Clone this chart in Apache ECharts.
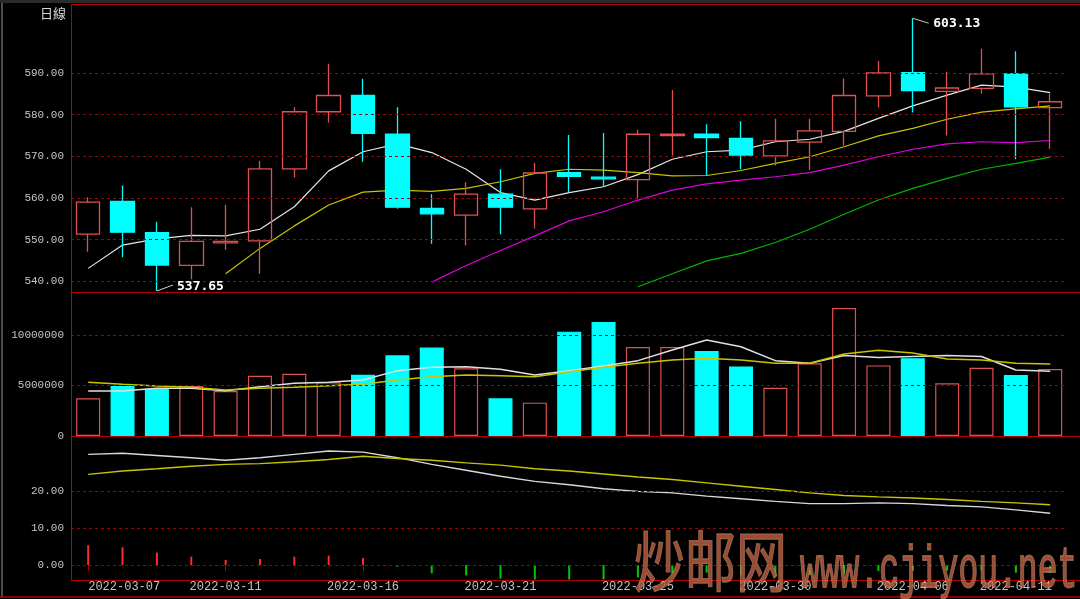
<!DOCTYPE html>
<html><head><meta charset="utf-8">
<script src="https://cdn.jsdelivr.net/npm/echarts@6/dist/echarts.min.js"></script>
<style>html,body{margin:0;padding:0;background:#000;}#c{width:1080px;height:599px;}</style>
</head><body><div id="c"></div>
<script>
// ---------- data ----------
const dates = ['2022-03-07','2022-03-08','2022-03-09','2022-03-10','2022-03-11','2022-03-12','2022-03-14','2022-03-15','2022-03-16','2022-03-17','2022-03-18','2022-03-19','2022-03-21','2022-03-22','2022-03-23','2022-03-24','2022-03-25','2022-03-26','2022-03-28','2022-03-29','2022-03-30','2022-03-31','2022-04-01','2022-04-02','2022-04-06','2022-04-07','2022-04-08','2022-04-11','2022-04-12'];
const dateLabelIdx = [0,4,8,12,16,20,24,27];

const open  = [551.3,559.2,551.7,543.8,549.2,549.7,567.0,580.7,584.6,575.3,557.5,555.9,560.9,557.4,566.1,565.0,564.4,575.0,575.3,574.3,570.1,573.4,576.0,584.5,590.1,585.6,586.3,589.8,581.7];
const close = [559.0,551.8,543.9,549.6,549.6,567.0,580.7,584.6,575.5,557.8,556.2,560.9,557.8,566.0,565.2,564.6,575.3,575.3,574.5,570.3,573.7,576.1,584.6,590.0,585.8,586.4,589.8,581.9,583.1];
const low   = [547.1,545.8,537.65,540.5,547.6,541.8,564.9,578.1,568.7,557.4,549.0,548.6,551.3,552.7,561.4,562.7,559.7,570.2,565.4,566.9,567.8,566.7,572.6,581.7,580.5,575.0,585.0,569.3,571.8];
const high  = [560.2,563.0,554.3,557.8,558.4,568.9,581.8,592.2,588.6,581.8,560.9,563.8,566.9,568.4,575.1,575.6,576.4,585.9,577.7,578.4,579.0,579.0,588.7,592.9,603.13,590.3,595.8,595.2,585.1];

const ma5  = [543.1,548.7,550.2,551.0,550.9,552.5,557.9,566.5,571.1,573.0,570.9,566.9,561.3,559.5,561.3,562.7,565.6,569.3,571.1,571.5,573.5,574.1,576.0,579.1,582.1,584.7,587.1,586.6,585.3];
const ma10 = ['-','-','-','-',541.8,547.9,553.3,558.3,561.4,561.9,561.6,562.3,563.9,565.9,566.9,566.7,566.1,565.3,565.4,566.6,568.3,569.9,572.3,574.9,576.7,578.9,580.6,581.4,582.1];
const ma20 = ['-','-','-','-','-','-','-','-','-','-',539.8,543.8,547.4,550.9,554.5,556.7,559.5,561.9,563.4,564.3,565.1,566.1,567.9,569.9,571.7,573.0,573.5,573.3,573.8];
const ma60 = ['-','-','-','-','-','-','-','-','-','-','-','-','-','-','-','-',538.7,541.8,544.9,546.7,549.3,552.5,556.1,559.5,562.3,564.7,566.9,568.3,569.8];

const volume  = [3730000,4950000,4680000,4950000,4460000,5970000,6170000,5310000,6070000,7990000,8750000,6700000,3730000,3300000,10330000,11290000,8810000,8810000,8420000,6890000,4770000,7200000,12680000,6990000,7700000,5220000,6750000,6030000,6640000];
const volMa5  = [4460000,4460000,4720000,4720000,4490000,4880000,5220000,5310000,5540000,6470000,6800000,6860000,6600000,6040000,6470000,6930000,7460000,8510000,9500000,8830000,7460000,7200000,7980000,7770000,7870000,7980000,7870000,6540000,6410000];
const volMa10 = [5310000,5120000,4950000,4820000,4550000,4720000,4820000,4980000,5120000,5540000,5870000,6040000,5970000,5870000,6370000,6800000,7200000,7520000,7690000,7530000,7200000,7200000,8120000,8490000,8220000,7630000,7530000,7200000,7130000];

const indWhite  = [29.9,30.2,29.6,29.0,28.3,29.0,29.9,30.8,30.5,29.0,27.2,25.6,24.0,22.6,21.7,20.6,19.9,19.5,18.6,17.9,17.2,16.6,16.6,16.8,16.6,16.1,15.7,14.9,14.0];
const indYellow = [24.5,25.4,26.0,26.7,27.2,27.4,27.9,28.5,29.4,28.8,28.3,27.6,27.0,26.0,25.4,24.6,23.8,23.1,22.2,21.3,20.4,19.5,18.8,18.4,18.1,17.7,17.2,16.8,16.3];
const indHist   = [5.35,4.8,3.35,2.26,1.36,1.63,2.26,2.53,1.9,-0.45,-2.26,-2.8,-3.7,-3.9,-3.9,-3.9,-3.35,-2.26,-2.1,-2.7,-3.2,-2.7,-2.3,-1.6,-1.4,-1.5,-1.4,-2.1,-2.1];

const priceTicks = [540,550,560,570,580,590];
const volTicks   = [0,5000000,10000000];
const volGridVals = [5000000,10000000];
const indTicks   = [0,10,20];
const extremeLow  = {idx: 2, value: 537.65};
const extremeHigh = {idx: 24, value: 603.13};

// ---------- styling ----------
const UP = '#e05050', DOWN = '#00ffff';
const FRAME = '#b40000', GRIDC = '#a00000';
const LABEL = '#c4c4c4';
const MONO = '"Liberation Mono", "DejaVu Sans Mono", monospace';

const candleData = open.map((o,i)=>[o, close[i], low[i], high[i]]);
const isUp = open.map((o,i)=>close[i] >= o);
const volData = volume.map((v,i)=>({value:v, itemStyle:{color: isUp[i]?'transparent':DOWN, borderColor: isUp[i]?UP:DOWN, borderWidth:1.2}}));
const histData = indHist.map(v=>({value:v, itemStyle:{color: v>=0?'#ff2a2a':'#00c800'}}));

function gridLines(vals){
  return {silent:true, symbol:['none','none'], label:{show:false}, animation:false,
    lineStyle:{color:GRIDC, type:[3,3], width:1}, emphasis:{disabled:true},
    data: vals.map(v=>({yAxis:v}))};
}
function line(name, data, color, xi, yi, w){
  return {name, type:'line', data, xAxisIndex:xi, yAxisIndex:yi, symbol:'none', showSymbol:false,
    lineStyle:{color, width:w||1.2}, z:3, animation:false, silent:true};
}
const grids = [
  {left:71, right:12.6, top:4, height:288},
  {left:71, right:12.6, top:292, height:144},
  {left:71, right:12.6, top:436, height:144}
];
function xAx(gi, showLab){
  const o = {type:'category', gridIndex:gi, data:dates, boundaryGap:true,
    axisLine:{show:false}, splitLine:{show:false},
    axisTick:{show:false}, axisLabel:{show:false}};
  if(showLab){
    o.axisTick = {show:true, alignWithLabel:true, interval:(i)=>dateLabelIdx.includes(i), length:6, lineStyle:{color:FRAME}};
    o.axisLabel = {show:true, interval:(i)=>dateLabelIdx.includes(i), color:LABEL, fontFamily:MONO, fontSize:12, margin:1, alignMinLabel:'left'};
  }
  return o;
}
function yAx(gi, min, max, ticks, fmt){
  return {type:'value', gridIndex:gi, min, max, scale:true,
    axisLine:{show:false}, axisTick:{show:false}, splitLine:{show:false},
    axisLabel:{customValues:ticks, formatter:fmt, color:LABEL, fontFamily:MONO, fontSize:11, margin:7}};
}

const option = {
  backgroundColor:'#000',
  animation:false,
  grid: grids,
  xAxis: [xAx(0,false), xAx(1,false), xAx(2,true)],
  yAxis: [
    yAx(0, 537.43, 606.56, priceTicks, v=>v.toFixed(2)),
    yAx(1, 0, 14257000, volTicks, v=>String(Math.round(v))),
    yAx(2, -4.05, 34.86, indTicks, v=>v.toFixed(2))
  ],
  series: [
    Object.assign(line('MA5', ma5, '#e6e6e6', 0, 0), {markLine: gridLines(priceTicks)}),
    line('MA10', ma10, '#c8c400', 0, 0),
    line('MA20', ma20, '#e000e0', 0, 0),
    line('MA60', ma60, '#00b400', 0, 0),
    {type:'candlestick', xAxisIndex:0, yAxisIndex:0, data:candleData, barWidth:24, z:4,
     itemStyle:{color:'transparent', color0:DOWN, borderColor:UP, borderColor0:DOWN, borderWidth:1.3},
     markPoint:{animation:false, silent:true, data:[
       {coord:[dates[extremeLow.idx], extremeLow.value], value:extremeLow.value,
        symbol:'path://M0,6L16,0', symbolSize:[16,6], symbolOffset:[8,-3], symbolKeepAspect:false,
        itemStyle:{color:'none', borderColor:'#e0e0e0', borderWidth:1},
        label:{show:true, position:'right', distance:2, offset:[-2,-1], formatter:(p)=>p.value.toFixed(2), color:'#ffffff', fontFamily:'"DejaVu Sans Mono", monospace', fontWeight:'bold', fontSize:13}},
       {coord:[dates[extremeHigh.idx], extremeHigh.value], value:extremeHigh.value,
        symbol:'path://M0,0L16,5', symbolSize:[16,5], symbolOffset:[8,2.5], symbolKeepAspect:false,
        itemStyle:{color:'none', borderColor:'#e0e0e0', borderWidth:1},
        label:{show:true, position:'right', distance:2, offset:[-2,3], formatter:(p)=>p.value.toFixed(2), color:'#ffffff', fontFamily:'"DejaVu Sans Mono", monospace', fontWeight:'bold', fontSize:13}}
     ]}},
    {type:'bar', xAxisIndex:1, yAxisIndex:1, data:volData, barWidth:24, z:2, silent:true,
     markLine: gridLines(volGridVals)},
    line('VMA5', volMa5, '#e0e0e0', 1, 1, 1.5),
    line('VMA10', volMa10, '#c8c400', 1, 1, 1.5),
    {type:'bar', xAxisIndex:2, yAxisIndex:2, data:histData, barWidth:2, z:2, silent:true,
     markLine: gridLines(indTicks)},
    line('IND1', indWhite, '#d8d8d8', 2, 2, 1.4),
    line('IND2', indYellow, '#c8c400', 2, 2, 1.4)
  ],
  graphic: [
    {type:'rect', shape:{x:0,y:0,width:1080,height:3}, style:{fill:'#2a2a2a'}, z:10, silent:true},
    {type:'line', shape:{x1:2,y1:3,x2:2,y2:597}, style:{stroke:'#9a9a9a', lineWidth:1}, z:10, silent:true},
    {type:'line', shape:{x1:71,y1:4.5,x2:1080,y2:4.5}, style:{stroke:FRAME, lineWidth:1}, z:10, silent:true},
    {type:'line', shape:{x1:71.5,y1:4,x2:71.5,y2:580}, style:{stroke:FRAME, lineWidth:1}, z:10, silent:true},
    {type:'line', shape:{x1:71,y1:292.5,x2:1080,y2:292.5}, style:{stroke:FRAME, lineWidth:1}, z:10, silent:true},
    {type:'line', shape:{x1:71,y1:436.5,x2:1080,y2:436.5}, style:{stroke:FRAME, lineWidth:1}, z:10, silent:true},
    {type:'line', shape:{x1:71,y1:580.5,x2:1080,y2:580.5}, style:{stroke:FRAME, lineWidth:1}, z:10, silent:true},
    {type:'line', shape:{x1:0,y1:597,x2:1080,y2:597}, style:{stroke:FRAME, lineWidth:1.5}, z:10, silent:true},
    {type:'text', x:40, y:13, silent:true, z:10,
     style:{text:'日線', fill:'#d8d8d8', font:'13px "Noto Sans CJK TC"', textAlign:'left', textVerticalAlign:'middle'}},
    {type:'text', x:634, y:561, scaleY:1.3, silent:true, z:20,
     style:{text:'炒邮网', fill:'rgba(180,92,60,0.85)', stroke:'rgba(230,175,155,0.55)', lineWidth:1, font:'51px "Noto Sans CJK SC"', textAlign:'left', textVerticalAlign:'middle'}},
    {type:'text', x:800, y:571, scaleY:1.8, silent:true, z:20,
     style:{text:'www.cjiyou.net', fill:'rgba(180,92,60,0.85)', stroke:'rgba(230,175,155,0.55)', lineWidth:1, font:'33px "Liberation Mono"', textAlign:'left', textVerticalAlign:'middle'}}
  ]
};
const chart = echarts.init(document.getElementById('c'), null, {renderer:'canvas'});
chart.setOption(option);
</script>
</body></html>
